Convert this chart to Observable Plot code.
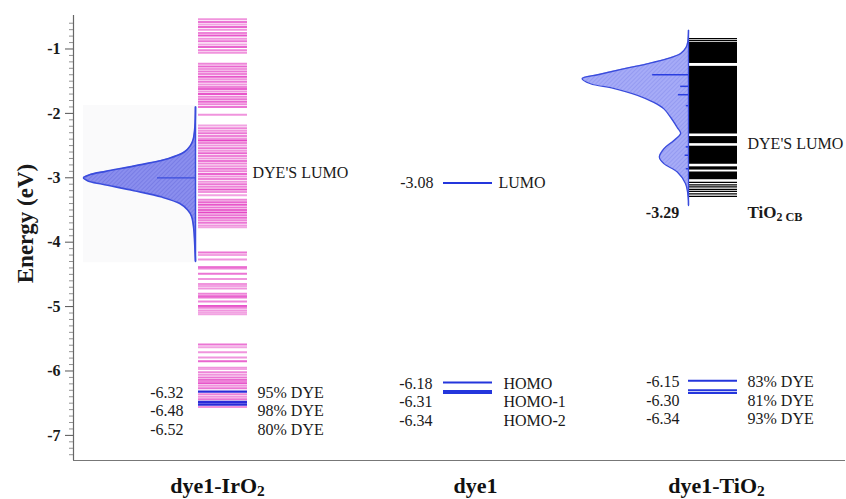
<!DOCTYPE html>
<html>
<head>
<meta charset="utf-8">
<script src="https://cdn.jsdelivr.net/npm/d3@7"></script>
<script src="https://cdn.jsdelivr.net/npm/@observablehq/plot@0.6"></script>
<style>
  html, body { margin: 0; padding: 0; background: #fff; }
</style>
</head>
<body>
<div id="chart"></div>
<script>
// ---------- DATA ----------
const energyTicks = [-1, -2, -3, -4, -5, -6, -7];
const columns = ["dye1-IrO2", "dye1", "dye1-TiO2"];

// dye1-IrO2: substrate orbital levels (energy, intensity)
const irMOEnergy = [
  -0.54, -0.58, -0.62, -0.66, -0.70, -0.75, -0.79, -0.84, -0.88, -0.93, -0.97, -1.02, -1.06,
  -1.23, -1.27, -1.31, -1.35, -1.39, -1.43, -1.47, -1.51, -1.55, -1.59, -1.62, -1.66, -1.70, -1.74, -1.78, -1.82, -1.86, -1.90,
  -2.02,
  -2.19, -2.23, -2.27, -2.31, -2.35, -2.39, -2.42, -2.46, -2.50, -2.54, -2.58, -2.62, -2.66, -2.70, -2.74, -2.78, -2.82, -2.86,
  -2.90, -2.94, -2.98, -3.02, -3.06, -3.10, -3.14, -3.18, -3.22, -3.27, -3.34, -3.38, -3.42, -3.46, -3.50, -3.54, -3.58, -3.62,
  -3.66, -3.70, -3.74, -3.77,
  -4.16, -4.20, -4.27, -4.39, -4.41, -4.49, -4.57, -4.65, -4.68, -4.72, -4.80, -4.84, -4.86, -4.92, -4.99, -5.02, -5.06, -5.09, -5.12,
  -5.59, -5.63, -5.71, -5.79, -5.85, -5.95, -5.97, -6.02, -6.06, -6.10, -6.14, -6.16, -6.19, -6.23, -6.27, -6.36, -6.40, -6.44, -6.56
];
const irMOWeight = [
  0.5, 0.7, 0.4, 0.8, 0.5, 0.6, 0.9, 0.5, 0.7, 0.4, 0.8, 0.6, 0.5,
  0.6, 0.8, 0.5, 0.7, 0.6, 0.9, 0.5, 0.7, 0.5, 0.6, 0.8, 0.5, 0.9, 0.6, 0.7, 0.8, 0.6, 0.7,
  0.5,
  0.4, 0.6, 0.5, 0.7, 0.6, 0.5, 1.0, 0.6, 0.5, 0.7, 0.5, 0.8, 0.6, 0.5, 0.7, 0.6, 0.5, 0.7,
  0.6, 0.8, 0.5, 0.6, 0.5, 0.7, 0.6, 0.9, 0.5, 0.4, 0.6, 0.8, 0.9, 0.7, 0.8, 1.0, 0.7, 0.8,
  0.6, 0.7, 0.5, 0.4,
  0.7, 0.4, 0.5, 0.9, 0.6, 0.7, 0.5, 0.5, 0.4, 0.5, 0.6, 0.9, 0.7, 0.6, 0.9, 0.6, 0.5, 0.4, 0.4,
  0.7, 0.4, 0.5, 0.5, 0.8, 0.5, 0.4, 0.6, 0.5, 0.7, 0.8, 0.6, 0.9, 0.5, 0.7, 0.6, 0.5, 0.7, 0.5
];
const irDyeLevels = [-6.32, -6.48, -6.52];
const irDyeShare = ["95% DYE", "98% DYE", "80% DYE"];
const irDyeLumo = -3.0;
// dye1-IrO2 density of states of the dye (energy, relative density)
const irDosEnergy = [-1.9, -2.2, -2.4, -2.5, -2.6, -2.7, -2.8, -2.9, -2.95, -3.0, -3.05, -3.1, -3.2, -3.3, -3.4, -3.5, -3.6, -3.8, -4.0, -4.3];
const irDosDensity = [0, 0.005, 0.02, 0.045, 0.1, 0.24, 0.5, 0.8, 0.94, 1.0, 0.96, 0.83, 0.55, 0.3, 0.14, 0.07, 0.035, 0.015, 0.008, 0];

// dye1 alone
const dyeLevels = [-3.08, -6.18, -6.31, -6.34];
const dyeNames = ["LUMO", "HOMO", "HOMO-1", "HOMO-2"];

// dye1-TiO2
const tiDyeLevels = [-6.15, -6.30, -6.34];
const tiDyeShare = ["83% DYE", "81% DYE", "93% DYE"];
const tiCB = -3.29;
const tiBandTop = [-0.915, -1.27, -2.36, -2.51, -2.83, -2.91];
const tiBandBottom = [-1.225, -2.32, -2.47, -2.79, -2.88, -3.03];
const tiLevelLines = [-0.84, -0.87, -0.90, -3.07, -3.11, -3.14, -3.18, -3.21, -3.25, -3.29];
const tiDosEnergy = [-0.71, -0.87, -0.97, -1.07, -1.15, -1.23, -1.32, -1.40, -1.46, -1.54, -1.61, -1.72, -1.83, -1.93, -2.06, -2.22, -2.31, -2.42, -2.55, -2.68, -2.78, -2.91, -3.09, -3.3, -3.43];
const tiDosDensity = [0, 0.005, 0.02, 0.07, 0.19, 0.37, 0.61, 0.81, 0.95, 0.875, 0.67, 0.455, 0.31, 0.22, 0.16, 0.10, 0.07, 0.13, 0.22, 0.26, 0.22, 0.10, 0.027, 0.003, 0];
const tiDyeLineEnergy = [-1.40, -1.58, -1.71, -1.88, -2.52, -2.65, -2.86];
const tiDyeLineWeight = [0.32, 0.07, 0.09, 0.02, 0.02, 0.03, 0.02];

// ---------- LAYOUT (pixels along x) ----------
const L = {
  axis: 73,
  right: 845,
  irBase: 195, irBar1: 198, irBar2: 247, irNum: 183, irTxt: 257, irLumoTxt: 252,
  dyeL1: 443, dyeL2: 492, dyeNum: 433, dyeLumoTxt: 498, dyeTxt: 503,
  tiBase: 688, tiBar2: 737, tiNum: 679, tiTxt: 747, tiCBNum: 662,
  dosWidth: 112
};
const yTop = -0.48, yBottom = -7.39;
const rowStep = 0.287;

const irMO = irMOEnergy.map((e, i) => ({e, w: irMOWeight[i]}));
const irDos = irDosEnergy.map((e, i) => ({e, d: irDosDensity[i]}));
const tiDos = tiDosEnergy.map((e, i) => ({e, d: tiDosDensity[i]}));
const tiBands = tiBandTop.map((t, i) => ({t, b: tiBandBottom[i]}));
const tiDyeLines = tiDyeLineEnergy.map((e, i) => ({e, w: tiDyeLineWeight[i]}));
const minorTicks = d3.range(-7.3, -0.5, 0.1).map(v => Math.round(v * 10) / 10).filter(v => !energyTicks.includes(v));

const pink = d3.interpolateRgb("#fbe0f5", "#e236c0");
const serif = "Liberation Serif, Times New Roman, serif";
const blue = "#3a4cdc";
const lvlBlue = "#2436dc";
const rows = (levels) => levels.map((v, i) => levels[0] - 0.02 - i * rowStep);

const txt = (data, opts) => Plot.text(data, {fontFamily: serif, fontSize: 16, fill: "#1a1a1a", ...opts});

const svg = Plot.plot({
  width: 846,
  height: 499,
  marginLeft: L.axis,
  marginRight: 846 - L.right,
  marginTop: 15,
  marginBottom: 39,
  x: {domain: [L.axis, L.right], axis: null},
  y: {domain: [yBottom, yTop], axis: null},
  marks: [
    // axes
    Plot.ruleX([L.axis], {y1: yTop, y2: yBottom, stroke: "#666", strokeWidth: 1.2}),
    Plot.ruleY([yBottom], {x1: L.axis, x2: L.right, stroke: "#777", strokeWidth: 1.2}),
    Plot.ruleY(minorTicks, {x1: L.axis - 4, x2: L.axis, stroke: "#777", strokeWidth: 0.8}),
    Plot.ruleY(energyTicks, {x1: L.axis - 8, x2: L.axis, stroke: "#555", strokeWidth: 1}),
    txt(energyTicks, {x: L.axis - 13, y: d => d, text: d => String(d), textAnchor: "end", fontWeight: "bold", fontSize: 16}),
    txt(["Energy (eV)"], {x: 25, y: -3.71, rotate: -90, fontWeight: "bold", fontSize: 23}),
    txt(columns, {x: [217, 475, 716], y: -7.78, fontWeight: "bold", fontSize: 22, fill: "#111"}),

    // ---- dye1-IrO2 ----
    Plot.rect([0], {x1: 83, x2: L.irBase, y1: -1.88, y2: -4.32, fill: "#fafafb"}),
    Plot.areaX(irDos, {y: "e", x1: L.irBase, x2: d => L.irBase - d.d * L.dosWidth, fill: "url(#hatchIr)", curve: "catmull-rom"}),
    Plot.lineX(irDos, {y: "e", x: d => L.irBase - d.d * L.dosWidth, stroke: blue, strokeWidth: 1.6, curve: "catmull-rom"}),
    Plot.ruleX([L.irBase], {y1: irDosEnergy[0], y2: irDosEnergy[irDosEnergy.length - 1], stroke: blue, strokeWidth: 1.5}),
    Plot.ruleY([irDyeLumo], {x1: 157, x2: L.irBase, stroke: blue, strokeWidth: 1.3}),
    Plot.ruleY(irMO, {y: "e", x1: L.irBar1, x2: L.irBar2, stroke: d => pink(d.w * 0.9), strokeWidth: 2}),
    Plot.ruleY(irDyeLevels, {x1: L.irBar1, x2: L.irBar2, stroke: "#2a2ad8", strokeWidth: 2.4}),
    txt(irDyeLevels, {x: L.irNum, y: rows(irDyeLevels), text: d => d.toFixed(2), textAnchor: "end"}),
    txt(irDyeShare, {x: L.irTxt, y: rows(irDyeLevels), textAnchor: "start"}),
    txt(["DYE'S LUMO"], {x: L.irLumoTxt, y: -2.93, textAnchor: "start"}),

    // ---- dye1 ----
    Plot.ruleY(dyeLevels, {x1: L.dyeL1, x2: L.dyeL2, stroke: lvlBlue, strokeWidth: 2}),
    txt([dyeLevels[0]], {x: L.dyeNum, y: d => d, text: d => d.toFixed(2), textAnchor: "end"}),
    txt([dyeNames[0]], {x: L.dyeLumoTxt, y: dyeLevels[0], textAnchor: "start"}),
    txt(dyeLevels.slice(1), {x: L.dyeNum - 1, y: rows(dyeLevels.slice(1)), text: d => d.toFixed(2), textAnchor: "end"}),
    txt(dyeNames.slice(1), {x: L.dyeTxt, y: rows(dyeLevels.slice(1)), textAnchor: "start"}),

    // ---- dye1-TiO2 ----
    Plot.areaX(tiDos, {y: "e", x1: L.tiBase, x2: d => L.tiBase - d.d * L.dosWidth, fill: "url(#hatchTi)", curve: "catmull-rom"}),
    Plot.lineX(tiDos, {y: "e", x: d => L.tiBase - d.d * L.dosWidth, stroke: blue, strokeWidth: 1.3, curve: "catmull-rom"}),
    Plot.rect(tiBands, {x1: L.tiBase, x2: L.tiBar2, y1: "t", y2: "b", fill: "#000"}),
    Plot.ruleY(tiLevelLines, {x1: L.tiBase, x2: L.tiBar2, stroke: "#000", strokeWidth: 1.3}),
    Plot.ruleY(tiDyeLines, {y: "e", x1: d => L.tiBase - d.w * L.dosWidth, x2: L.tiBase, stroke: "#2a3ee0", strokeWidth: 1.5}),
    Plot.ruleX([L.tiBase], {y1: tiDosEnergy[0], y2: tiDosEnergy[tiDosEnergy.length - 1], stroke: blue, strokeWidth: 1.3}),
    Plot.ruleY(tiDyeLevels, {x1: L.tiBase, x2: L.tiBar2, stroke: lvlBlue, strokeWidth: 2}),
    txt(tiDyeLevels, {x: L.tiNum, y: rows(tiDyeLevels), text: d => d.toFixed(2), textAnchor: "end"}),
    txt(tiDyeShare, {x: L.tiTxt, y: rows(tiDyeLevels), textAnchor: "start"}),
    txt(["DYE'S LUMO"], {x: L.tiTxt, y: -2.47, textAnchor: "start"}),
    txt([tiCB], {x: L.tiCBNum, y: -3.54, text: d => d.toFixed(2), fontWeight: "bold", fontSize: 16}),
    txt(["TiO2 CB"], {x: L.tiTxt, y: -3.54, textAnchor: "start", fontWeight: "bold", fontSize: 17})
  ]
});

// hatch patterns for the density-of-states fills
const defs = document.createElementNS("http://www.w3.org/2000/svg", "defs");
defs.innerHTML = `
  <pattern id="hatchIr" patternUnits="userSpaceOnUse" width="3" height="3" patternTransform="rotate(45)">
    <rect width="3" height="3" fill="#8a8eee"/>
    <line x1="0" y1="0" x2="0" y2="3" stroke="#6d72e0" stroke-width="1.2"/>
  </pattern>
  <pattern id="hatchTi" patternUnits="userSpaceOnUse" width="3" height="3" patternTransform="rotate(45)">
    <rect width="3" height="3" fill="#a6abf7"/>
    <line x1="0" y1="0" x2="0" y2="3" stroke="#878ded" stroke-width="1.1"/>
  </pattern>`;
svg.insertBefore(defs, svg.firstChild);

// subscripts (O₂) and small "CB"
svg.querySelectorAll("text").forEach(t => {
  const s = t.textContent;
  const m = s.match(/^(.*O)2(.*)$/);
  if (!m) return;
  t.textContent = "";
  const ns = "http://www.w3.org/2000/svg";
  const a = document.createElementNS(ns, "tspan"); a.textContent = m[1]; t.appendChild(a);
  const b = document.createElementNS(ns, "tspan"); b.textContent = "2";
  b.setAttribute("dy", "0.22em"); b.setAttribute("font-size", "0.7em"); t.appendChild(b);
  if (m[2]) {
    const c = document.createElementNS(ns, "tspan"); c.textContent = m[2];
    c.setAttribute("font-size", "0.72em"); t.appendChild(c);
  }
});

document.getElementById("chart").appendChild(svg);
</script>
</body>
</html>
